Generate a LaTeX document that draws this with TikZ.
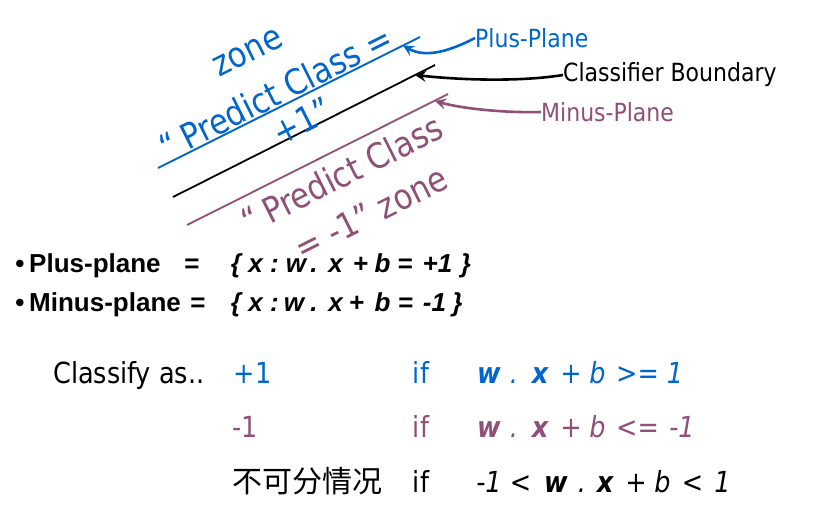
\documentclass[tikz,border=0pt]{standalone}
\usepackage{fontspec}
\usetikzlibrary{arrows.meta}
\newfontfamily\tah{DejaVu Sans}[FakeStretch=0.88]
\newfontfamily\arl{Liberation Sans}
\newfontfamily\cjk{Noto Sans CJK SC}
\definecolor{pblue}{HTML}{0066CC}
\definecolor{ppurp}{HTML}{8F4F78}
\newcommand\tk[5]{\node[#2] (#1) at (#3,#4) {#5};}
\tikzset{
  lbl/.style={font=\tah\fontsize{25}{30}\selectfont, inner sep=0, anchor=west},
  rot/.style={font=\tah\fontsize{35}{40}\selectfont, inner sep=0, rotate=26.6, anchor=center},
  bul/.style={font=\arl\bfseries\fontsize{26}{30}\selectfont, inner sep=0, anchor=base},
  bfo/.style={font=\arl\bfseries\itshape\fontsize{26}{30}\selectfont, inner sep=0, anchor=base},
  cl/.style={font=\tah\fontsize{29}{34}\selectfont, inner sep=0, anchor=base},
  fo/.style={font=\tah\itshape\fontsize{29}{34}\selectfont, inner sep=0, anchor=base},
  fb/.style={font=\tah\bfseries\itshape\fontsize{29}{34}\selectfont, inner sep=0, anchor=base},
  plane/.style={line width=1.8pt},
  arr/.style={line width=2.6pt, -{Stealth[length=11pt,width=11pt,inset=4pt]}},
}
\begin{document}
\begin{tikzpicture}[x=1pt,y=-1pt]
\useasboundingbox (0,0) rectangle (819,514);
% planes
\coordinate (bl1) at (158,168); \coordinate (bl2) at (420,37);
\coordinate (kl1) at (173,197); \coordinate (kl2) at (435,65);
\coordinate (ml1) at (187,225); \coordinate (ml2) at (448,94);
\draw[plane, pblue] (bl1) -- (bl2);
\draw[plane, black] (kl1) -- (kl2);
\draw[plane, ppurp] (ml1) -- (ml2);
% rotated zone texts
\node[rot, pblue] (z1) at (248,53) {zone};
\node[rot, pblue] (z2) at (276,92) {“\hspace{0.2em}Predict Class =};
\node[rot, pblue] (z3) at (302,121) {+1”};
\node[rot, ppurp] (z4) at (342,174) {“\hspace{0.2em}Predict Class};
\node[rot, ppurp] (z5) at (371,213) {= -1” zone};
% labels and arrows
\node[lbl, pblue] (pp) at (475,38) {Plus-Plane};
\node[lbl, black] (cb) at (563,75) {Classifier Boundary};
\node[lbl, ppurp] (mp) at (541,112) {Minus-Plane};
\coordinate (tp) at (403,45.5);
\coordinate (tc) at (415,75);
\coordinate (tm) at (435,101);
\draw[arr, pblue] (pp.west) .. controls (448,52) and (425,58) .. (tp);
\draw[arr, black] (cb.west) .. controls (520,82) and (460,80) .. (tc);
\draw[arr, ppurp] (mp.west) .. controls (500,113) and (460,108) .. (tm);
% bullet lines
\tk{ba}{bul}{20}{272}{•}
\node[bul, anchor=base west] (pl) at (29,272) {Plus-plane};
\tk{pe}{bul}{192}{272}{=}
\tk{a1}{bfo}{236}{272}{\{}
\tk{a2}{bfo}{255.5}{272}{x}
\tk{a3}{bfo}{274.5}{272}{:}
\tk{a4}{bfo}{296}{272}{w}
\tk{a5}{bfo}{314}{272}{.}
\tk{a6}{bfo}{335.5}{272}{x}
\tk{a7}{bfo}{360.5}{272}{+}
\tk{a8}{bfo}{382.5}{272}{b}
\tk{a9}{bfo}{405}{272}{=}
\tk{a10}{bfo}{437.5}{272}{+1}
\tk{a11}{bfo}{466}{272}{\}}
\tk{bb}{bul}{20}{311}{•}
\node[bul, anchor=base west] (ml) at (29,311) {Minus-plane};
\tk{me}{bul}{198}{311}{=}
\tk{c1}{bfo}{236}{311}{\{}
\tk{c2}{bfo}{255.5}{311}{x}
\tk{c3}{bfo}{274.5}{311}{:}
\tk{c4}{bfo}{294}{311}{w}
\tk{c5}{bfo}{314}{311}{.}
\tk{c6}{bfo}{335.5}{311}{x}
\tk{c7}{bfo}{356.5}{311}{+}
\tk{c8}{bfo}{382.5}{311}{b}
\tk{c9}{bfo}{405.5}{311}{=}
\tk{c10}{bfo}{434.5}{311}{-1}
\tk{c11}{bfo}{457.5}{311}{\}}
% classify rows
\node[cl, anchor=base west] (cls) at (53,383) {Classify as..};
\tk{r1a}{cl, pblue}{252.5}{383}{+1}
\tk{r1b}{cl, pblue}{421}{383}{if}
\tk{r1c}{fb, pblue}{489}{383}{w}
\tk{r1d}{fo, pblue}{514}{383}{.}
\tk{r1e}{fb, pblue}{540}{383}{x}
\tk{r1f}{fo, pblue}{571}{383}{+}
\tk{r1g}{fo, pblue}{597.5}{383}{b}
\tk{r1h}{fo, pblue}{637.5}{383}{>=}
\tk{r1i}{fo, pblue}{675}{383}{1}
\tk{r2a}{cl, ppurp}{245}{437}{-1}
\tk{r2b}{cl, ppurp}{421}{437}{if}
\tk{r2c}{fb, ppurp}{489}{437}{w}
\tk{r2d}{fo, ppurp}{514}{437}{.}
\tk{r2e}{fb, ppurp}{540}{437}{x}
\tk{r2f}{fo, ppurp}{571}{437}{+}
\tk{r2g}{fo, ppurp}{597.5}{437}{b}
\tk{r2h}{fo, ppurp}{637.5}{437}{<=}
\tk{r2i}{fo, ppurp}{682}{437}{-1}
\node[cl, font=\cjk\fontsize{30}{34}\selectfont, anchor=base west] (r3a) at (232,492) {不可分情况};
\tk{r3b}{cl}{421}{492}{if}
\tk{r3c}{fo}{489}{492}{-1}
\tk{r3d}{fo}{520.5}{492}{<}
\tk{r3e}{fb}{556}{492}{w}
\tk{r3f}{fo}{582}{492}{.}
\tk{r3g}{fb}{605}{492}{x}
\tk{r3h}{fo}{636}{492}{+}
\tk{r3i}{fo}{662.5}{492}{b}
\tk{r3j}{fo}{692.5}{492}{<}
\tk{r3k}{fo}{722.5}{492}{1}
\end{tikzpicture}
\end{document}
